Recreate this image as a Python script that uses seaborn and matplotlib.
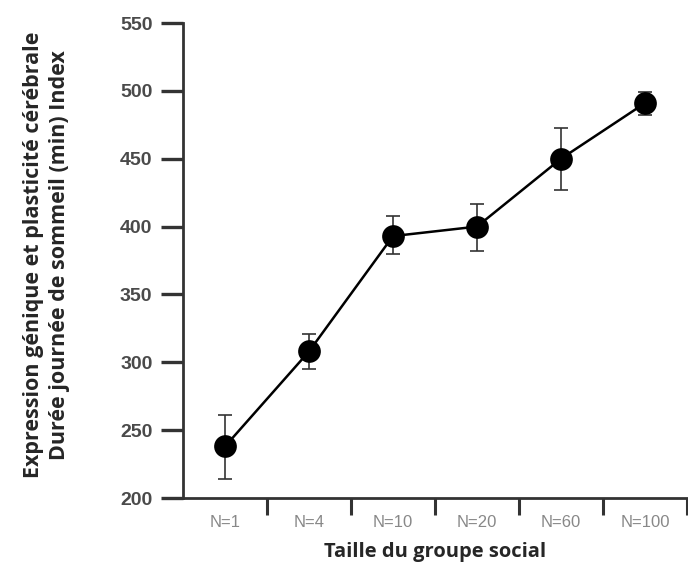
import matplotlib
matplotlib.use("Agg")
import matplotlib.pyplot as plt
import seaborn as sns
import pandas as pd

groups = ["N=1", "N=4", "N=10", "N=20", "N=60", "N=100"]
sleep_min = [238, 308, 393, 400, 450, 491]
err_low = [24, 13, 13, 18, 23, 9]
err_high = [23, 13, 15, 17, 23, 8]

df = pd.DataFrame({"group": groups, "value": sleep_min})

sns.set_style("white")
plt.rcParams['font.family'] = ['Open Sans', 'DejaVu Sans']

fig = plt.figure(figsize=(6.88, 5.70), dpi=100)
ax = fig.add_axes([0.266, 0.1263, 0.7325, 0.8333])

sns.pointplot(data=df, x="group", y="value", order=groups, errorbar=None,
              color="black", markers="o", markersize=15, linewidth=1.8, ax=ax)
ax.errorbar(range(len(groups)), sleep_min, yerr=[err_low, err_high], fmt="none",
            ecolor="#333333", elinewidth=1.2, capsize=5, capthick=1.2, zorder=1)

ax.set_xlim(-0.5, 5.5)
ax.set_ylim(200, 550)
ax.set_yticks(range(200, 551, 50))
sns.despine(ax=ax)
for s in ["left", "bottom"]:
    ax.spines[s].set_linewidth(2.0)
    ax.spines[s].set_color("#333333")

ax.tick_params(axis="y", left=True, length=16, width=2.4, color="#333333", pad=6,
               labelsize=14, labelcolor="#4a4a4a")
for lab in ax.get_yticklabels():
    lab.set_fontfamily(["Liberation Sans", "DejaVu Sans"])
    lab.set_fontweight("bold")
ax.tick_params(axis="x", which="major", length=0, pad=12, labelsize=12,
               labelcolor="#888888")
for lab in ax.get_xticklabels():
    lab.set_fontfamily(["Liberation Sans", "DejaVu Sans"])
ax.set_xticks([0.5, 1.5, 2.5, 3.5, 4.5, 5.5], minor=True)
ax.tick_params(axis="x", which="minor", length=12, width=2.2, color="#333333",
               direction="out", bottom=True)

ax.set_xlabel("Taille du groupe social", fontsize=14.5, fontweight="bold", labelpad=9)
ax.set_ylabel("Expression génique et plasticité cérébrale\nDurée journée de sommeil (min) Index",
              fontsize=15.5, fontweight="bold", linespacing=1.3)
ax.yaxis.set_label_coords(-0.225, 0.512)

fig.savefig("out.png", dpi=100)
